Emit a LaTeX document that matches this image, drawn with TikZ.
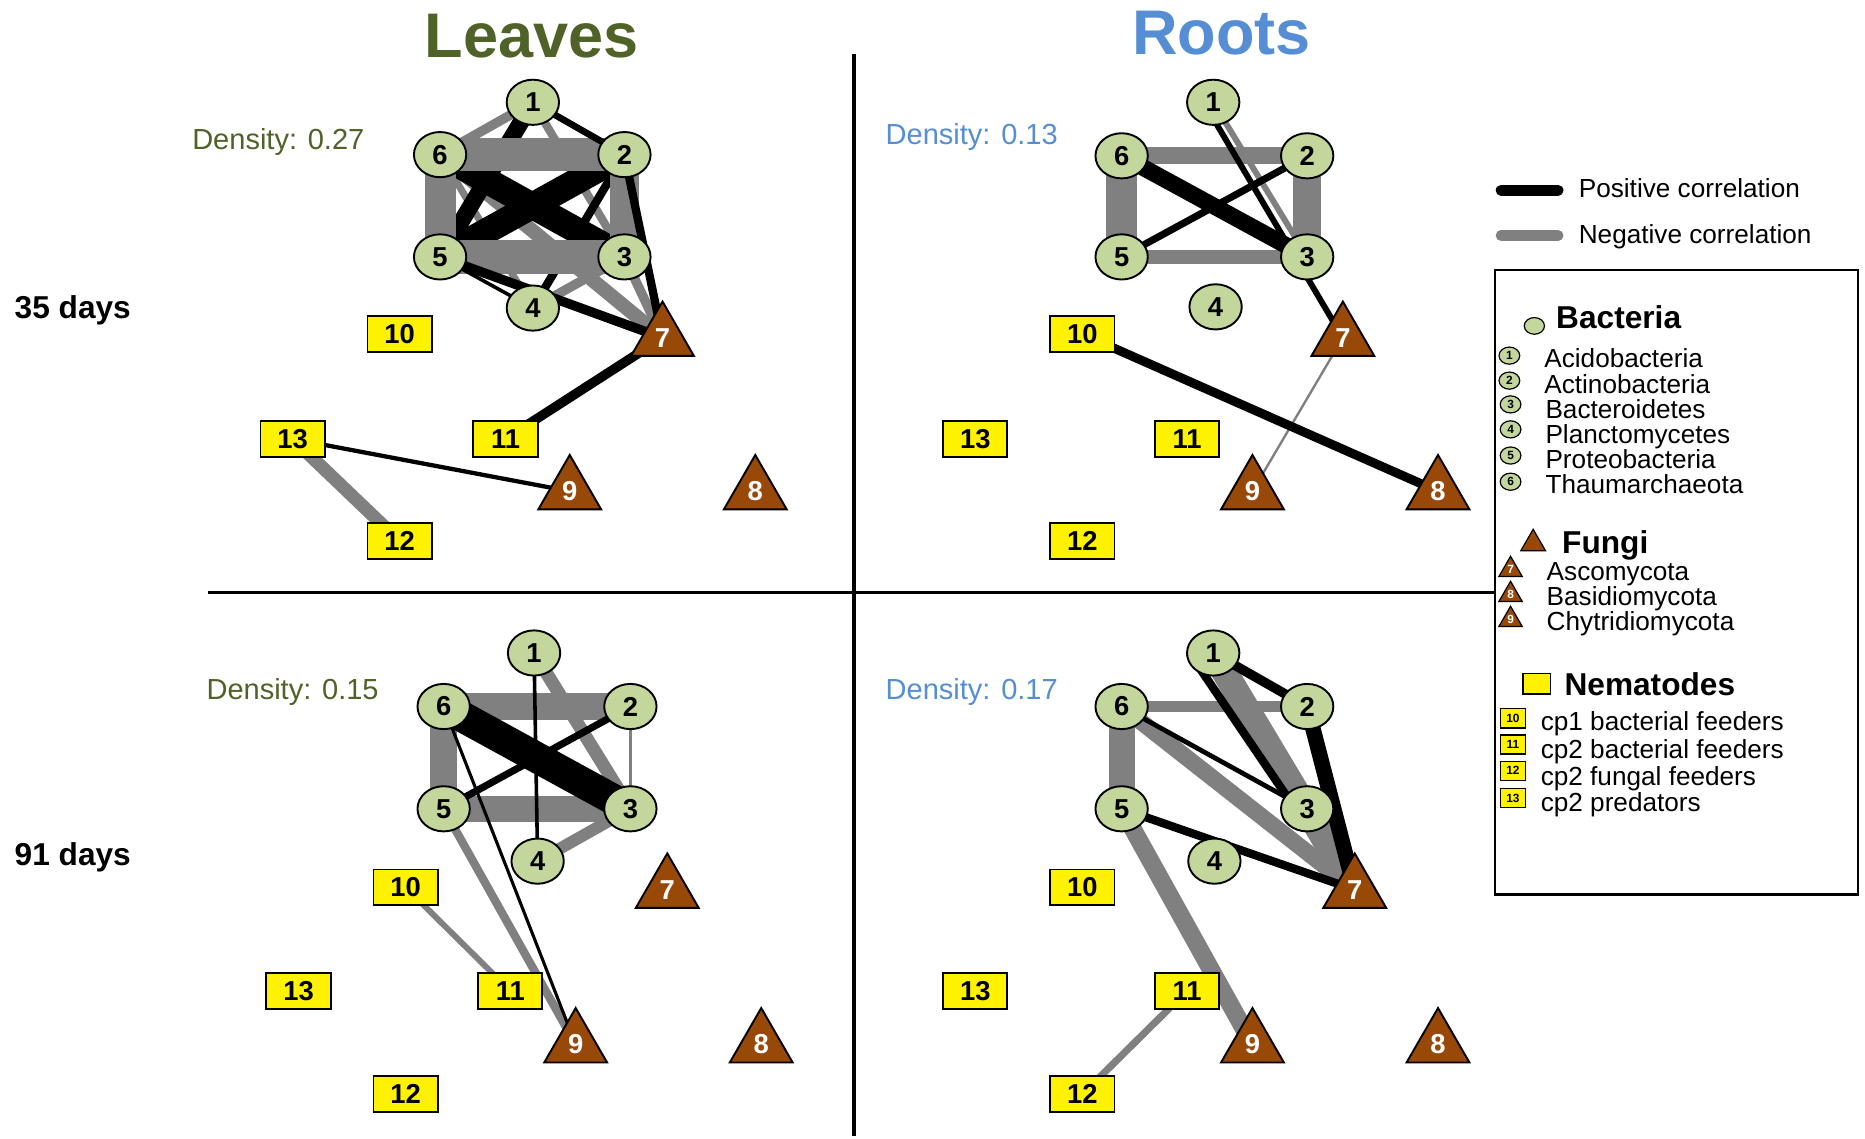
\documentclass[tikz,border=0pt]{standalone}
\usepackage{fontspec}
\setmainfont{Liberation Sans}
\usetikzlibrary{shapes.geometric}

\definecolor{leafgreen}{HTML}{4F6228}
\definecolor{rootblue}{HTML}{558ED5}
\definecolor{bactgreen}{HTML}{C3D69B}
\definecolor{fungbrown}{HTML}{984807}
\definecolor{edgegray}{HTML}{808080}

\pgfdeclarelayer{edges}
\pgfsetlayers{edges,main}

\tikzset{
    bact/.style={ellipse, draw, line width=0.8pt, fill=bactgreen, minimum width=22pt, minimum height=19pt, inner sep=0pt, font=\fontsize{11.5}{12}\selectfont\bfseries},
    fung/.style={regular polygon, regular polygon sides=3, draw, line width=0.8pt, fill=fungbrown, minimum size=30.5pt, inner sep=0pt, text=white, font=\fontsize{11.5}{12}\selectfont\bfseries},
    nema/.style={rectangle, draw, line width=0.8pt, fill=yellow, minimum width=27pt, minimum height=15pt, inner sep=0pt, font=\fontsize{11.5}{12}\selectfont\bfseries},
    minibact/.style={bact, line width=0.5pt, minimum width=8.7pt, minimum height=7.2pt, font=\fontsize{5}{5}\selectfont\bfseries},
    minifung/.style={fung, line width=0.5pt, minimum size=11.3pt, font=\fontsize{5}{5}\selectfont\bfseries},
    mininema/.style={nema, line width=0.5pt, minimum width=10.5pt, minimum height=8pt, font=\fontsize{5}{5}\selectfont\bfseries},
    poscor/.style={black, line width=#1},
    negcor/.style={edgegray, line width=#1},
    title/.style={font=\fontsize{26.5}{30}\selectfont\bfseries},
    density/.style={font=\fontsize{12.2}{14}\selectfont},
    days/.style={anchor=west, inner sep=0pt, font=\fontsize{13.3}{15}\selectfont\bfseries},
    legtext/.style={anchor=west, inner sep=0pt, text height=8pt, text depth=2pt, font=\fontsize{11}{13}\selectfont},
    leghead/.style={anchor=west, inner sep=0pt, text height=9.5pt, text depth=0pt, font=\fontsize{13.3}{15}\selectfont\bfseries},
}

\begin{document}
\begin{tikzpicture}[x=0.5pt, y=-0.5pt]
        \useasboundingbox (0,0) rectangle (1568,957);
        \node[title, text=leafgreen] (leaves) at (447,30) {Leaves};
        \node[title, text=rootblue] (roots) at (1027,28) {Roots};
        \node[days] (day35) at (12,261) {35 days};
        \node[days] (day91) at (12,721) {91 days};
        \node[density, text=leafgreen] (densL35) at (234,119) {Density: 0.27};
        \node[density, text=rootblue] (densR35) at (817,115) {Density: 0.13};
        \node[density, text=leafgreen] (densL91) at (246,582) {Density: 0.15};
        \node[density, text=rootblue] (densR91) at (817,582) {Density: 0.17};
        \draw[line width=1.3pt] (718,45) -- (718,955);
        \draw[line width=1.3pt] (175,498) -- (1257,498);

        \node[bact] (L35n1) at (448,86) {1};
        \node[bact] (L35n2) at (525,130) {2};
        \node[bact] (L35n3) at (525,216) {3};
        \node[bact] (L35n4) at (448,259) {4};
        \node[bact] (L35n5) at (370,216) {5};
        \node[bact] (L35n6) at (370,130) {6};
        \node[fung] (L35n7) at (557,284) {7};
        \node[fung] (L35n8) at (635,413) {8};
        \node[fung] (L35n9) at (479,413) {9};
        \node[nema] (L35n10) at (336,281) {10};
        \node[nema] (L35n11) at (425,369) {11};
        \node[nema] (L35n12) at (336,455) {12};
        \node[nema] (L35n13) at (246,369) {13};

        \node[bact] (R35n1) at (1020,86) {1};
        \node[bact] (R35n2) at (1099,131) {2};
        \node[bact] (R35n3) at (1099,216) {3};
        \node[bact] (R35n4) at (1022,258) {4};
        \node[bact] (R35n5) at (943,216) {5};
        \node[bact] (R35n6) at (943,131) {6};
        \node[fung] (R35n7) at (1129,284) {7};
        \node[fung] (R35n8) at (1209,413) {8};
        \node[fung] (R35n9) at (1053,413) {9};
        \node[nema] (R35n10) at (910,281) {10};
        \node[nema] (R35n11) at (998,369) {11};
        \node[nema] (R35n12) at (910,455) {12};
        \node[nema] (R35n13) at (820,369) {13};

        \node[bact] (L91n1) at (449,549) {1};
        \node[bact] (L91n2) at (530,594) {2};
        \node[bact] (L91n3) at (530,680) {3};
        \node[bact] (L91n4) at (452,724) {4};
        \node[bact] (L91n5) at (373,680) {5};
        \node[bact] (L91n6) at (373,594) {6};
        \node[fung] (L91n7) at (561,748) {7};
        \node[fung] (L91n8) at (640,878) {8};
        \node[fung] (L91n9) at (484,878) {9};
        \node[nema] (L91n10) at (341,746) {10};
        \node[nema] (L91n11) at (429,833) {11};
        \node[nema] (L91n12) at (341,920) {12};
        \node[nema] (L91n13) at (251,833) {13};

        \node[bact] (R91n1) at (1020,549) {1};
        \node[bact] (R91n2) at (1099,594) {2};
        \node[bact] (R91n3) at (1099,680) {3};
        \node[bact] (R91n4) at (1021,724) {4};
        \node[bact] (R91n5) at (943,680) {5};
        \node[bact] (R91n6) at (943,594) {6};
        \node[fung] (R91n7) at (1139,748) {7};
        \node[fung] (R91n8) at (1209,878) {8};
        \node[fung] (R91n9) at (1053,878) {9};
        \node[nema] (R91n10) at (910,746) {10};
        \node[nema] (R91n11) at (998,833) {11};
        \node[nema] (R91n12) at (910,920) {12};
        \node[nema] (R91n13) at (820,833) {13};

        \begin{pgfonlayer}{edges}
            \draw[negcor=3.5pt] (L35n1.center) -- (L35n3.center);
            \draw[negcor=3pt] (L35n6.center) -- (L35n4.center);
            \draw[negcor=6pt] (L35n6.center) -- (L35n7.center);
            \draw[negcor=4pt] (L35n4.center) -- (L35n3.center);
            \draw[negcor=4pt] (L35n3.center) -- (L35n7.center);
            \draw[poscor=7pt] (L35n1.center) -- (L35n5.center);
            \draw[poscor=11pt] (L35n6.center) -- (L35n3.center);
            \draw[poscor=11pt] (L35n2.center) -- (L35n5.center);
            \draw[poscor=3.5pt] (L35n2.center) -- (L35n4.center);
            \draw[negcor=4pt] (L35n1.center) -- (L35n6.center);
            \draw[negcor=14pt] (L35n6.center) -- (L35n2.center);
            \draw[negcor=14pt] (L35n5.center) -- (L35n3.center);
            \draw[negcor=13pt] (L35n6.center) -- (L35n5.center);
            \draw[negcor=12pt] (L35n2.center) -- (L35n3.center);
            \draw[negcor=5.5pt] (L35n13.center) -- (L35n12.center);
            \draw[poscor=2.8pt] (L35n1.center) -- (L35n2.center);
            \draw[poscor=1.5pt] (L35n5.center) -- (L35n4.center);
            \draw[poscor=4pt] (L35n5.center) -- (L35n7.center);
            \draw[poscor=3.5pt] (L35n2.center) -- (L35n7.center);
            \draw[poscor=4pt] (L35n7.center) -- (L35n11.center);
            \draw[poscor=1.8pt] (L35n13.center) -- (L35n9.center);

            \draw[negcor=7pt] (R35n6.center) -- (R35n2.center);
            \draw[negcor=13pt] (R35n6.center) -- (R35n5.center);
            \draw[negcor=12pt] (R35n2.center) -- (R35n3.center);
            \draw[negcor=6pt] (R35n5.center) -- (R35n3.center);
            \draw[negcor=2.5pt] (R35n1.center) -- (R35n3.center);
            \draw[negcor=1pt] (R35n7.center) -- (R35n9.center);
            \draw[poscor=7pt] (R35n6.center) -- (R35n3.center);
            \draw[poscor=3pt] (R35n5.center) -- (R35n2.center);
            \draw[poscor=2.5pt] ([xshift=-4pt]R35n1.center) -- (R35n7.center);
            \draw[poscor=3.8pt] (R35n10.center) -- (R35n8.center);

            \draw[negcor=11pt] (L91n6.center) -- (L91n2.center);
            \draw[negcor=11pt] (L91n5.center) -- (L91n3.center);
            \draw[negcor=11.5pt] (L91n6.center) -- (L91n5.center);
            \draw[negcor=5.5pt] (L91n1.center) -- (L91n3.center);
            \draw[negcor=1pt] (L91n2.center) -- (L91n3.center);
            \draw[negcor=5pt] (L91n4.center) -- (L91n3.center);
            \draw[negcor=3.5pt] (L91n5.center) -- (L91n9.center);
            \draw[negcor=2.5pt] (L91n10.center) -- (L91n11.center);
            \draw[poscor=13pt] (L91n6.center) -- (L91n3.center);
            \draw[poscor=3pt] (L91n5.center) -- (L91n2.center);
            \draw[poscor=1.5pt] (L91n1.center) -- (L91n4.center);
            \draw[poscor=1.3pt] (L91n6.center) -- (L91n9.center);

            \draw[negcor=5pt] (R91n6.center) -- (R91n2.center);
            \draw[negcor=11pt] (R91n1.center) -- (R91n7.center);
            \draw[negcor=7pt] (R91n6.center) -- (R91n7.center);
            \draw[negcor=11pt] (R91n6.center) -- (R91n5.center);
            \draw[negcor=7.5pt] (R91n5.center) -- (R91n9.center);
            \draw[negcor=3pt] (R91n11.center) -- (R91n12.center);
            \draw[poscor=4pt] (R91n1.center) -- (R91n2.center);
            \draw[poscor=3.5pt] ([xshift=-10pt]R91n1.center) -- ([xshift=-5pt]R91n3.center);
            \draw[poscor=2pt] (R91n6.center) -- (R91n3.center);
            \draw[poscor=6.5pt] (R91n2.center) -- (R91n7.center);
            \draw[poscor=3.5pt] (R91n5.center) -- (R91n7.center);
        \end{pgfonlayer}

        \coordinate (posA) at (1262,160);
        \coordinate (posB) at (1310,160);
        \coordinate (negA) at (1262,198);
        \coordinate (negB) at (1310,198);
        \draw[line width=4.5pt, line cap=round] (posA) -- (posB);
        \draw[edgegray, line width=4.5pt, line cap=round] (negA) -- (negB);
        \node[legtext] (posText) at (1327,160) {Positive correlation};
        \node[legtext] (negText) at (1327,199) {Negative correlation};
        \draw[line width=1pt] (1257,227) rectangle (1562,752);

        \node[minibact, minimum width=8.5pt, minimum height=7pt] (bactIcon) at (1290,274) {};
        \node[leghead] (bactHead) at (1308,267) {Bacteria};
        \node[minibact] (lg1) at (1269,299) {1};
        \node[minibact] (lg2) at (1269,320) {2};
        \node[minibact] (lg3) at (1270,340) {3};
        \node[minibact] (lg4) at (1270,361) {4};
        \node[minibact] (lg5) at (1270,383) {5};
        \node[minibact] (lg6) at (1270,405) {6};
        \node[legtext] (lt1) at (1298,303) {Acidobacteria};
        \node[legtext] (lt2) at (1298,325) {Actinobacteria};
        \node[legtext] (lt3) at (1299,346) {Bacteroidetes};
        \node[legtext] (lt4) at (1299,367) {Planctomycetes};
        \node[legtext] (lt5) at (1299,388) {Proteobacteria};
        \node[legtext] (lt6) at (1299,409) {Thaumarchaeota};

        \node[minifung, minimum size=12pt] (fungIcon) at (1289,457) {};
        \node[leghead] (fungHead) at (1313,456) {Fungi};
        \node[minifung] (lg7) at (1270,479) {7};
        \node[minifung] (lg8) at (1270,500) {8};
        \node[minifung] (lg9) at (1270,521) {9};
        \node[legtext] (lt7) at (1300,482) {Ascomycota};
        \node[legtext] (lt8) at (1300,503) {Basidiomycota};
        \node[legtext] (lt9) at (1300,524) {Chytridiomycota};

        \node[mininema, minimum width=11.5pt, minimum height=8.5pt] (nemaIcon) at (1292,575) {};
        \node[leghead] (nemaHead) at (1315,575) {Nematodes};
        \node[mininema] (lg10) at (1272,604) {10};
        \node[mininema] (lg11) at (1272,626) {11};
        \node[mininema] (lg12) at (1272,648) {12};
        \node[mininema] (lg13) at (1272,671) {13};
        \node[legtext] (lt10) at (1295,608) {cp1 bacterial feeders};
        \node[legtext] (lt11) at (1295,632) {cp2 bacterial feeders};
        \node[legtext] (lt12) at (1295,654) {cp2 fungal feeders};
        \node[legtext] (lt13) at (1295,676) {cp2 predators};
    \end{tikzpicture}
\end{document}
